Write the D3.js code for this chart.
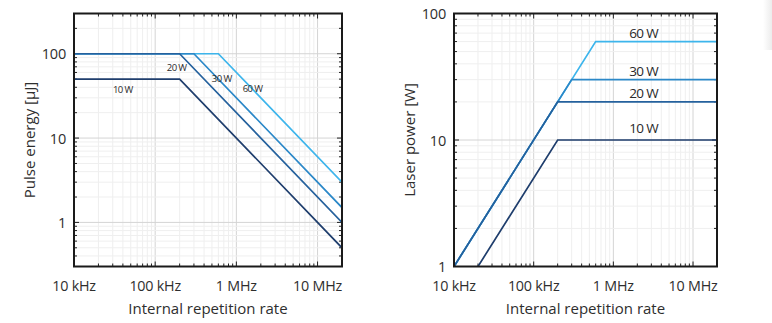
<!DOCTYPE html>
<html>
<head>
<meta charset="utf-8">
<script src="https://cdn.jsdelivr.net/npm/d3@7"></script>
<style>
  body { margin: 0; background: #fff; }
  svg { display: block; font-family: "Open Sans", "Noto Sans", sans-serif; }
</style>
</head>
<body>
<svg id="chart" width="772" height="323"></svg>
<script>
// series (W) and their colours, darkest first
const seriesNames = ["10 W", "20 W", "30 W", "60 W"];
const seriesColors = ["#1f3e6d", "#25619d", "#2b88c8", "#3db5ec"];

// vertices: [frequency Hz, value]
const energy10W = [[1e4, 50], [2e5, 50], [2e7, 0.5]];
const energy20W = [[1e4, 100], [2e5, 100], [2e7, 1]];
const energy30W = [[1e4, 100], [3e5, 100], [2e7, 1.5]];
const energy60W = [[1e4, 100], [6e5, 100], [2e7, 3]];

const power10W = [[2e4, 1], [2e5, 10], [2e7, 10]];
const power20W = [[1e4, 1], [2e5, 20], [2e7, 20]];
const power30W = [[1e4, 1], [3e5, 30], [2e7, 30]];
const power60W = [[1e4, 1], [6e5, 60], [2e7, 60]];

// where the in-plot labels sit, [frequency Hz, value]
const energyLabelPos = [[4e4, 38], [1.84e5, 69], [6.6e5, 51], [1.58e6, 39]];
const powerLabelPos = [[2.4e6, 12.4], [2.4e6, 23.5], [2.4e6, 35], [2.4e6, 70]];

const freqDomain = [1e4, 2e7];
const freqTicks = [1e4, 1e5, 1e6, 1e7];
const freqTickLabels = ["10 kHz", "100 kHz", "1 MHz", "10 MHz"];

const energyDomain = [0.3, 300];
const energyTicks = [1, 10, 100];
const powerDomain = [1, 100];
const powerTicks = [1, 10, 100];

const svg = d3.select("#chart");

// faint shadow at the right edge of the page
const grad = svg.append("defs").append("linearGradient").attr("id", "shade");
grad.append("stop").attr("offset", "0").attr("stop-color", "#fff");
grad.append("stop").attr("offset", "1").attr("stop-color", "#ececec");
svg.append("rect").attr("x", 763).attr("y", 0).attr("width", 9).attr("height", 50)
  .attr("fill", "url(#shade)");

function minorValues(domain) {
  var out = [];
  var lo = Math.floor(Math.log10(domain[0])), hi = Math.ceil(Math.log10(domain[1]));
  for (var e = lo; e <= hi; e++) {
    for (var m = 1; m < 10; m++) {
      var v = m * Math.pow(10, e);
      if (v >= domain[0] * 0.999 && v <= domain[1] * 1.001) out.push({ v: v, major: m == 1 });
    }
  }
  return out;
}

function drawPanel(opts) {
  var x = d3.scaleLog().domain(freqDomain).range([opts.left, opts.right]);
  var y = d3.scaleLog().domain(opts.yDomain).range([opts.bottom, opts.top]);
  var g = svg.append("g");

  var xm = minorValues(freqDomain), ym = minorValues(opts.yDomain);

  // grid
  g.selectAll(".gx").data(xm).enter().append("line")
    .attr("x1", (d) => x(d.v)).attr("x2", (d) => x(d.v))
    .attr("y1", opts.top).attr("y2", opts.bottom)
    .attr("stroke", (d) => (d.major ? "#d4d4d4" : "#efefef"))
    .attr("stroke-width", 1);
  g.selectAll(".gy").data(ym).enter().append("line")
    .attr("y1", (d) => y(d.v)).attr("y2", (d) => y(d.v))
    .attr("x1", opts.left).attr("x2", opts.right)
    .attr("stroke", (d) => (d.major ? "#d4d4d4" : "#efefef"))
    .attr("stroke-width", 1);

  // inward ticks on all four sides
  var tk = g.append("g").attr("stroke", "#222").attr("stroke-width", 1);
  xm.forEach(function (d) {
    var len = d.major ? 5 : 3;
    tk.append("line").attr("x1", x(d.v)).attr("x2", x(d.v)).attr("y1", opts.bottom).attr("y2", opts.bottom - len);
    tk.append("line").attr("x1", x(d.v)).attr("x2", x(d.v)).attr("y1", opts.top).attr("y2", opts.top + len);
  });
  ym.forEach(function (d) {
    var len = d.major ? 5 : 3;
    tk.append("line").attr("y1", y(d.v)).attr("y2", y(d.v)).attr("x1", opts.left).attr("x2", opts.left + len);
    tk.append("line").attr("y1", y(d.v)).attr("y2", y(d.v)).attr("x1", opts.right).attr("x2", opts.right - len);
  });

  // lines, lightest first so darker ones sit on top
  var line = d3.line().x((d) => x(d[0])).y((d) => y(d[1]));
  var clipId = "clip" + opts.id;
  svg.append("clipPath").attr("id", clipId).append("rect")
    .attr("x", opts.left).attr("y", opts.top)
    .attr("width", opts.right - opts.left).attr("height", opts.bottom - opts.top);
  var lg = g.append("g").attr("clip-path", "url(#" + clipId + ")");
  for (var i = opts.series.length - 1; i >= 0; i--) {
    lg.append("path").attr("d", line(opts.series[i]))
      .attr("fill", "none").attr("stroke", seriesColors[i]).attr("stroke-width", 1.7);
  }

  // frame
  g.append("rect").attr("x", opts.left).attr("y", opts.top)
    .attr("width", opts.right - opts.left).attr("height", opts.bottom - opts.top)
    .attr("fill", "none").attr("stroke", "#1a1a1a").attr("stroke-width", 2);

  // in-plot labels
  g.selectAll(".lbl").data(opts.labelPos).enter().append("text")
    .attr("x", (d) => x(d[0])).attr("y", (d) => y(d[1]))
    .attr("text-anchor", "middle").attr("dominant-baseline", "central")
    .attr("font-size", opts.labelSize).attr("letter-spacing", opts.labelSpacing)
    .attr("fill", "#2a2a2a")
    .text((d, i) => seriesNames[i]);

  // tick labels
  g.selectAll(".xt").data(freqTicks).enter().append("text")
    .attr("x", (d) => x(d)).attr("y", opts.bottom + 24)
    .attr("text-anchor", "middle").attr("font-size", 14.3).attr("letter-spacing", -0.2)
    .attr("fill", "#2e2e2e")
    .text((d, i) => freqTickLabels[i]);
  g.selectAll(".yt").data(opts.yTicks).enter().append("text")
    .attr("x", opts.left - 8).attr("y", (d) => y(d))
    .attr("text-anchor", "end").attr("dominant-baseline", "central")
    .attr("font-size", 14.5).attr("letter-spacing", -0.2).attr("fill", "#2e2e2e")
    .text((d) => d);

  // axis titles
  g.append("text").attr("x", (opts.left + opts.right) / 2).attr("y", opts.bottom + 47)
    .attr("text-anchor", "middle").attr("font-size", 15).attr("fill", "#2e2e2e")
    .text("Internal repetition rate");
  g.append("text")
    .attr("transform", "translate(" + opts.titleX + "," + (opts.top + opts.bottom) / 2 + ") rotate(-90)")
    .attr("text-anchor", "middle").attr("font-size", 15).attr("fill", "#2e2e2e")
    .text(opts.yTitle);
}

drawPanel({
  id: "E", left: 74, right: 342, top: 13.5, bottom: 266.5,
  yDomain: energyDomain, yTicks: energyTicks,
  series: [energy10W, energy20W, energy30W, energy60W],
  labelPos: energyLabelPos, labelSize: 9.5, labelSpacing: -0.6,
  yTitle: "Pulse energy [µJ]", titleX: 35
});

drawPanel({
  id: "P", left: 454, right: 717, top: 13.5, bottom: 266.5,
  yDomain: powerDomain, yTicks: powerTicks,
  series: [power10W, power20W, power30W, power60W],
  labelPos: powerLabelPos, labelSize: 13.5, labelSpacing: -0.6,
  yTitle: "Laser power [W]", titleX: 415
});
</script>
</body>
</html>
